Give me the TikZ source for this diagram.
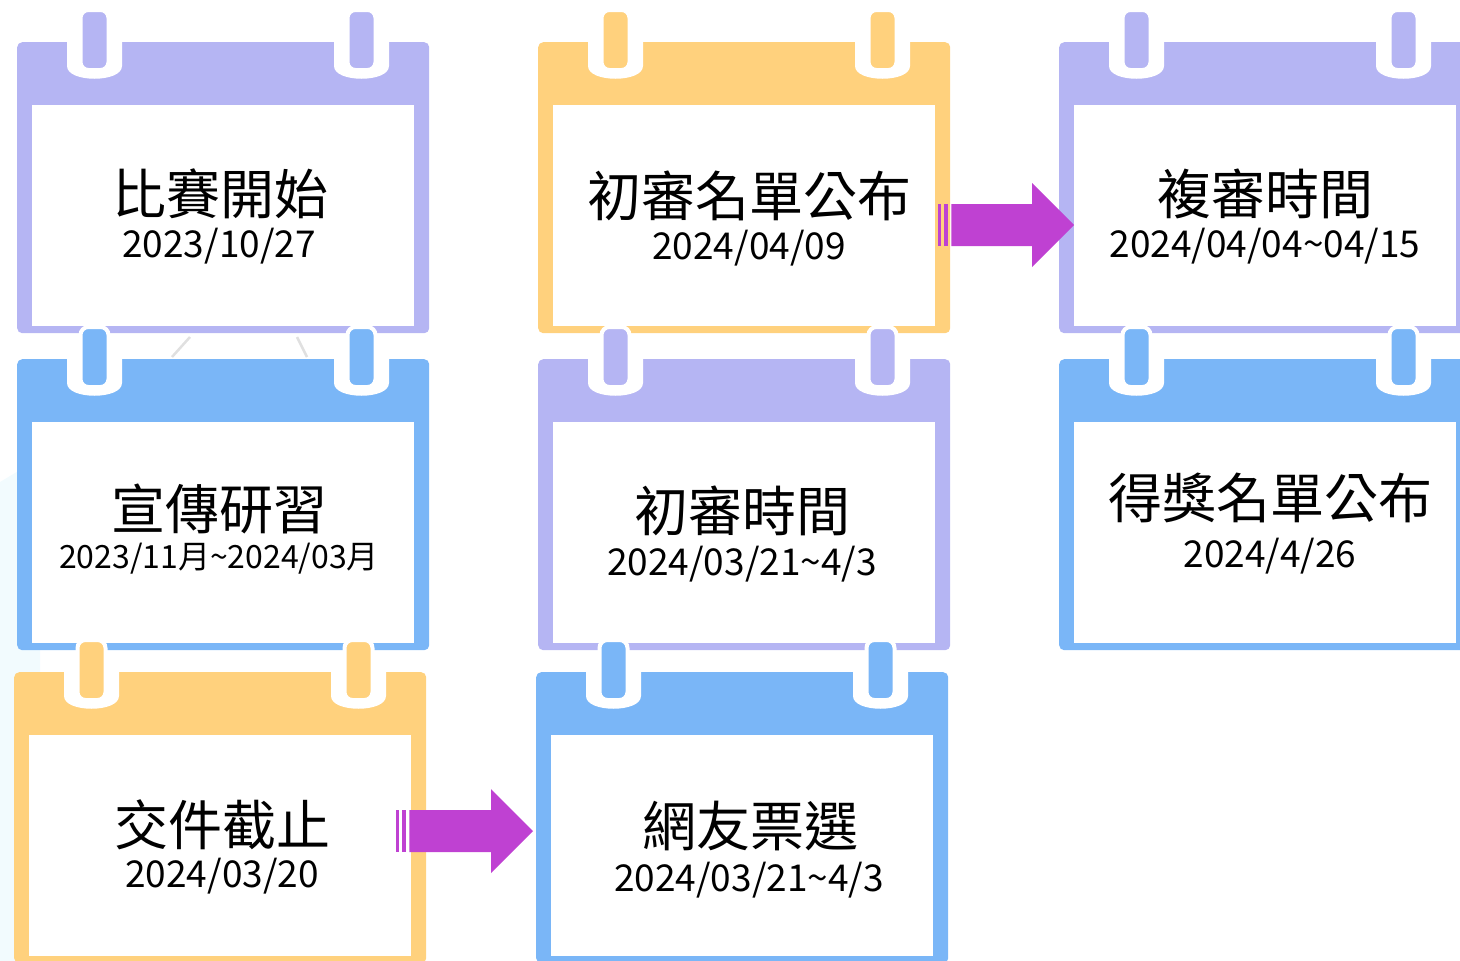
\documentclass[tikz,border=0pt]{standalone}
\usepackage{fontspec}
\setmainfont{Noto Sans CJK TC}
\usetikzlibrary{calc}
\definecolor{lavender}{RGB}{181,181,243}
\definecolor{skyblue}{RGB}{122,182,247}
\definecolor{sunyellow}{RGB}{255,209,125}
\definecolor{arrowpink}{RGB}{191,65,210}
\tikzset{
  cardbody/.style={fill=#1, rounded corners=5pt, minimum width=412pt, minimum height=291pt, inner sep=0pt, anchor=north west},
  ringbody/.style={fill=#1, draw=white, line width=4pt, rounded corners=8pt},
  titletext/.style={font=\fontsize{54}{60}\selectfont, inner sep=0pt},
  datetext/.style={font=\fontsize{37}{44}\selectfont, inner sep=0pt},
}
% card: name, left, top, colour
\newcommand{\calcard}[4]{%
\begin{scope}[shift={(#2,#3)}]
\node[cardbody=#4] (#1) at (0,0) {};
\fill[white] (15,63) rectangle (397,284);
\foreach \rx in {77.5,344.5} {
  \fill[white] (\rx-27.5,-1) -- (\rx-27.5,24) .. controls (\rx-27.5,41) and (\rx+27.5,41) .. (\rx+27.5,24) -- (\rx+27.5,-1) -- cycle;
  \filldraw[ringbody=#4] (\rx-14,-32) rectangle (\rx+14,28);
}
\end{scope}}
% arrow: start, end
\newcommand{\stripearrow}[2]{%
\fill[arrowpink] ($(#1)+(0,-21)$) rectangle ($(#1)+(3,21)$);
\fill[arrowpink] ($(#1)+(6,-21)$) rectangle ($(#1)+(10,21)$);
\fill[arrowpink] ($(#1)+(13,-21)$) -- ($(#2)+(-42,-21)$) -- ($(#2)+(-42,-42)$) -- (#2)
  -- ($(#2)+(-42,42)$) -- ($(#2)+(-42,21)$) -- ($(#1)+(13,21)$) -- cycle;
}

\begin{document}
\begin{tikzpicture}[x=1pt,y=-1pt]
\useasboundingbox (0,0) rectangle (1460,961);
\clip (0,0) rectangle (1460,961);

\fill[cyan!5] (0,482) -- (40,458) -- (40,961) -- (0,961) -- cycle;
\draw[black!12, line width=2.5pt] (172,357) -- (190,337);
\draw[black!12, line width=2.5pt] (297,337) -- (307,357);

\calcard{c11}{17}{42}{lavender}
\calcard{c12}{538}{42}{sunyellow}
\calcard{c13}{1059}{42}{lavender}

\calcard{c21}{17}{359}{skyblue}
\calcard{c22}{538}{359}{lavender}
\calcard{c23}{1059}{359}{skyblue}

\calcard{c31}{14}{672}{sunyellow}
\calcard{c32}{536}{672}{skyblue}

\node[titletext] (t11) at (220,194) {比賽開始};
\node[datetext] (d11) at (219,246) {2023/10/27};
\node[titletext] (t12) at (749,196) {初審名單公布};
\node[datetext] (d12) at (749,248) {2024/04/09};
\node[titletext] (t13) at (1265,194) {複審時間};
\node[datetext] (d13) at (1265,246) {2024/04/04\textasciitilde04/15};

\node[titletext] (t21) at (219,509) {宣傳研習};
\node[datetext, font=\fontsize{32}{38}\selectfont] (d21) at (219,559) {2023/11月\textasciitilde2024/03月};
\node[titletext] (t22) at (742,511) {初審時間};
\node[datetext] (d22) at (742,564) {2024/03/21\textasciitilde4/3};
\node[titletext] (t23) at (1270,498) {得獎名單公布};
\node[datetext] (d23) at (1270,556) {2024/4/26};

\node[titletext] (t31) at (222,825) {交件截止};
\node[datetext] (d31) at (222,876) {2024/03/20};
\node[titletext] (t32) at (750,826) {網友票選};
\node[datetext] (d32) at (749,880) {2024/03/21\textasciitilde4/3};

\coordinate (a1s) at ($(c12.north east)+(-12,183)$);
\coordinate (a1e) at ($(c13.north west)+(15,183)$);
\stripearrow{a1s}{a1e}
\coordinate (a2s) at ($(c31.north east)+(-30,159)$);
\coordinate (a2e) at ($(c32.north west)+(-3,159)$);
\stripearrow{a2s}{a2e}
\end{tikzpicture}
\end{document}
